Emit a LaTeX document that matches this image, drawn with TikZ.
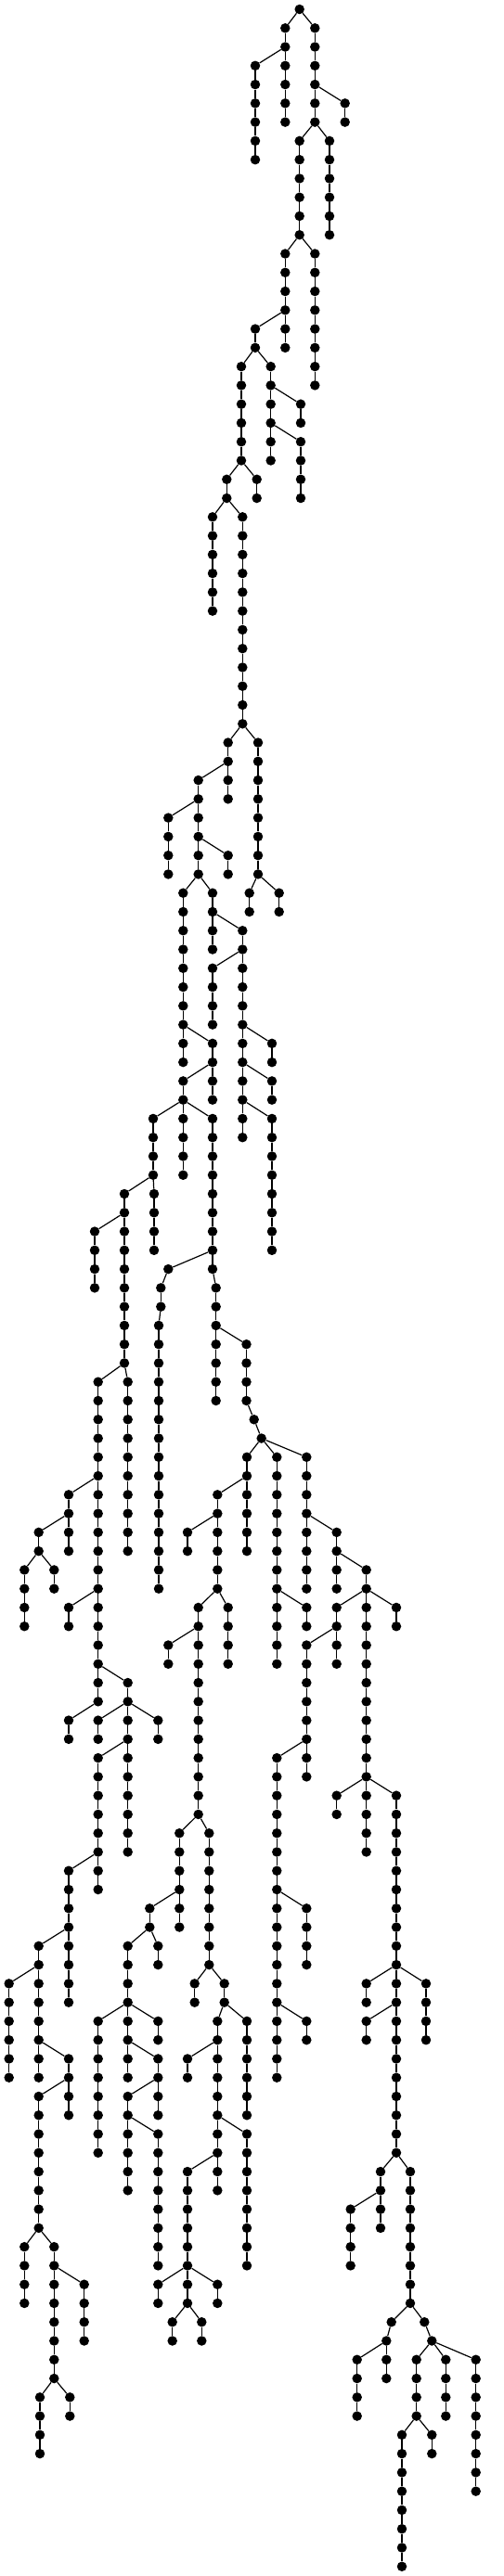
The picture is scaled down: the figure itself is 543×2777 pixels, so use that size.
\documentclass[tikz,border=0pt]{standalone}
\usetikzlibrary{positioning}
\tikzset{
  dot/.style={circle,fill=black,draw=none,inner sep=0pt,minimum size=10.5pt},
  edge/.style={line width=1.2pt,black}
}
\newcommand\tchain[5]{%
  \foreach \l in {#3,...,#4}{\node[dot] (#1-\l) at (#2,{-10-20.27*\l}) {};}%
  \draw[edge] (#5) -- (#1-#3);%
  \foreach \l [remember=\l as \p (initially #3)] in {#3,...,#4}{\ifnum\l>#3\relax\draw[edge] (#1-\p) -- (#1-\l);\fi}%
}
\begin{document}
\begin{tikzpicture}[x=1pt,y=1pt]
\useasboundingbox (0,0) rectangle (543,-2777);
\node[dot] (r) at (322.7,-10) {};
\tchain{c1}{307.3}{1}{6}{r}
\tchain{c2}{275}{3}{8}{c1-2}
\tchain{c3}{339.3}{1}{6}{r}
\tchain{c4}{371.7}{5}{6}{c3-4}
\tchain{c5}{322.7}{7}{12}{c3-6}
\tchain{c6}{355}{7}{12}{c3-6}
\tchain{c7}{307.3}{13}{18}{c5-12}
\tchain{c8}{339.3}{13}{20}{c5-12}
\tchain{c9}{275}{17}{18}{c7-16}
\tchain{c10}{260}{19}{24}{c9-18}
\tchain{c11}{291.7}{19}{24}{c9-18}
\tchain{c12}{324}{21}{22}{c11-20}
\tchain{c13}{324}{23}{26}{c11-22}
\tchain{c14}{244.3}{25}{26}{c10-24}
\tchain{c15}{276.7}{25}{26}{c10-24}
\tchain{c16}{229}{27}{32}{c14-26}
\tchain{c17}{261.3}{27}{38}{c14-26}
\tchain{c18}{245.7}{39}{42}{c17-38}
\tchain{c19}{278}{39}{46}{c17-38}
\tchain{c20}{268.7}{47}{48}{c19-46}
\tchain{c21}{300.7}{47}{48}{c19-46}
\tchain{c22}{213.7}{41}{46}{c18-40}
\tchain{c23}{181.3}{43}{46}{c22-42}
\tchain{c24}{245.7}{45}{46}{c22-44}
\tchain{c25}{197.3}{47}{56}{c22-46}
\tchain{c26}{229}{47}{50}{c22-46}
\tchain{c27}{261.3}{49}{60}{c26-48}
\tchain{c28}{229}{51}{54}{c27-50}
\tchain{c29}{229}{55}{58}{c25-54}
\tchain{c30}{293}{55}{56}{c27-54}
\tchain{c31}{293}{57}{58}{c27-56}
\tchain{c32}{293}{59}{66}{c27-58}
\tchain{c33}{197.3}{57}{62}{c29-56}
\tchain{c34}{165}{59}{62}{c33-58}
\tchain{c35}{229}{59}{67}{c33-58}
\tchain{c36}{181.3}{67}{67}{c35-66}
\tchain{c37a}{173.3}{68}{69}{c36-67}
\tchain{c37}{171}{70}{84}{c37a-69}
\tchain{c38}{232.7}{68}{74}{c35-67}
\tchain{c39}{265.5}{71}{74}{c38-70}
\tchain{c40}{273.7}{75}{75}{c39-74}
\tchain{c41}{281.7}{76}{76}{c40-75}
\tchain{c42}{266}{77}{82}{c41-76}
\tchain{c43}{298.3}{77}{88}{c41-76}
\tchain{c44}{330.3}{77}{84}{c41-76}
\tchain{c45}{134}{63}{72}{c34-62}
\tchain{c46}{166}{63}{66}{c34-62}
\tchain{c47}{102}{65}{68}{c45-64}
\tchain{c48}{105.7}{73}{90}{c45-72}
\tchain{c49}{137.7}{73}{82}{c45-72}
\tchain{c50}{74}{79}{82}{c48-78}
\tchain{c51}{41.7}{81}{82}{c50-80}
\tchain{c52}{26.3}{83}{86}{c51-82}
\tchain{c53}{58.3}{83}{84}{c51-82}
\tchain{c54}{74}{85}{86}{c48-84}
\tchain{c55}{137.7}{89}{98}{c48-88}
\tchain{c56}{105.7}{91}{92}{c55-90}
\tchain{c57}{170.3}{91}{92}{c55-90}
\tchain{c58}{74}{91}{92}{c48-90}
\tchain{c59}{105.7}{93}{100}{c55-92}
\tchain{c60}{74}{99}{106}{c59-98}
\tchain{c61}{41.7}{103}{110}{c60-102}
\tchain{c62}{9.7}{105}{110}{c61-104}
\tchain{c63}{74}{109}{112}{c61-108}
\tchain{c64}{41.7}{111}{118}{c63-110}
\tchain{c65}{26.3}{119}{122}{c64-118}
\tchain{c66}{58.3}{119}{126}{c64-118}
\tchain{c67}{90.7}{121}{124}{c66-120}
\tchain{c68}{43}{127}{130}{c66-126}
\tchain{c69}{75.3}{127}{128}{c66-126}
\tchain{c70}{234.3}{79}{84}{c42-78}
\tchain{c71}{202}{81}{82}{c70-80}
\tchain{c72}{213.7}{85}{96}{c70-84}
\tchain{c73}{245.7}{85}{88}{c70-84}
\tchain{c74}{181.3}{87}{88}{c72-86}
\tchain{c75}{193.3}{97}{102}{c72-96}
\tchain{c76}{225.3}{97}{104}{c72-96}
\tchain{c77}{161.3}{101}{102}{c75-100}
\tchain{c78}{137.7}{103}{110}{c77-102}
\tchain{c79}{170.3}{103}{104}{c77-102}
\tchain{c80}{105.7}{107}{114}{c78-106}
\tchain{c81}{170.3}{107}{108}{c78-106}
\tchain{c82}{170.3}{109}{112}{c78-108}
\tchain{c83}{137.7}{111}{116}{c82-110}
\tchain{c84}{170.3}{113}{120}{c83-112}
\tchain{c85}{209.7}{105}{106}{c76-104}
\tchain{c86}{241.7}{105}{106}{c76-104}
\tchain{c87}{234.3}{107}{116}{c86-106}
\tchain{c88}{266}{107}{112}{c86-106}
\tchain{c89}{202}{109}{110}{c87-108}
\tchain{c90}{266}{113}{120}{c87-112}
\tchain{c91}{202}{115}{122}{c87-114}
\tchain{c92}{170.3}{121}{122}{c91-120}
\tchain{c93}{234.3}{121}{122}{c91-120}
\tchain{c94}{185.7}{123}{124}{c91-122}
\tchain{c95}{217.3}{123}{124}{c91-122}
\tchain{c96}{362.7}{81}{84}{c44-80}
\tchain{c97}{394.7}{83}{98}{c96-82}
\tchain{c98}{330.3}{85}{86}{c43-84}
\tchain{c99}{362.7}{85}{88}{c97-84}
\tchain{c100}{427}{85}{86}{c97-84}
\tchain{c101}{330.3}{87}{94}{c99-86}
\tchain{c102}{298.3}{93}{110}{c101-92}
\tchain{c103}{362.7}{95}{96}{c97-94}
\tchain{c104}{427}{95}{114}{c97-94}
\tchain{c105}{330.3}{101}{104}{c102-100}
\tchain{c106}{330.3}{107}{108}{c102-106}
\tchain{c107}{394.7}{105}{106}{c104-104}
\tchain{c108}{459}{105}{108}{c104-104}
\tchain{c109}{394.7}{107}{108}{c104-106}
\tchain{c110}{410}{115}{118}{c104-114}
\tchain{c111}{442}{115}{122}{c104-114}
\tchain{c112}{377.7}{117}{120}{c110-116}
\tchain{c113}{421.7}{123}{123}{c111-122}
\tchain{c114}{416.3}{124}{126}{c113-123}
\tchain{c115}{384.7}{125}{128}{c114-124}
\tchain{c116}{457.3}{123}{123}{c111-122}
\tchain{c117}{465.3}{124}{124}{c116-123}
\tchain{c118}{448.7}{125}{128}{c117-124}
\tchain{c119}{480.3}{125}{128}{c117-124}
\tchain{c120}{512.7}{125}{132}{c117-124}
\tchain{c121}{433}{129}{136}{c118-128}
\tchain{c122}{465.3}{129}{130}{c118-128}
\end{tikzpicture}
\end{document}
